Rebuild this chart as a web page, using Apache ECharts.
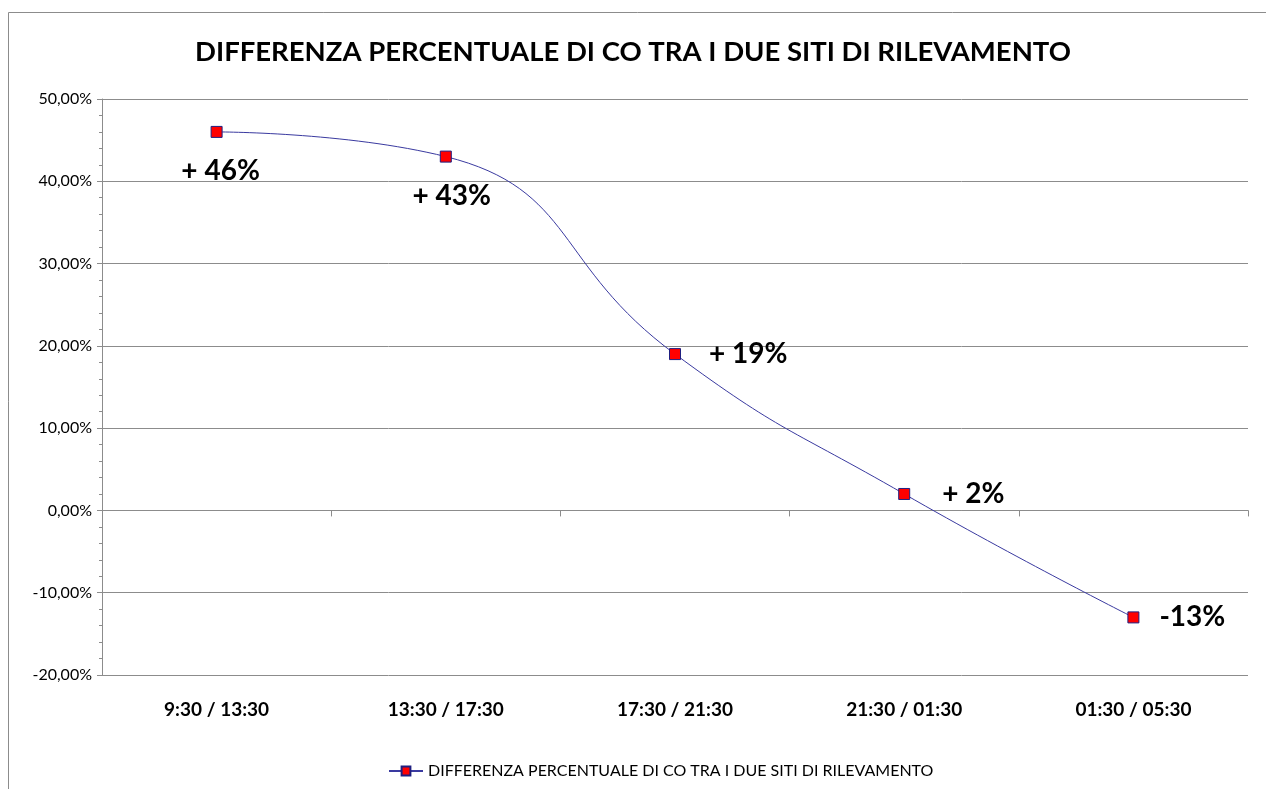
<!DOCTYPE html>
<html>
<head>
<meta charset="utf-8">
<script src="https://cdn.jsdelivr.net/npm/echarts@6/dist/echarts.min.js"></script>
<style>
  html, body { margin: 0; padding: 0; background: #fff; }
  #chart { width: 1266px; height: 789px; }
</style>
</head>
<body>
<div id="chart"></div>
<script>
// dati
const categories = ['9:30 / 13:30', '13:30 / 17:30', '17:30 / 21:30', '21:30 / 01:30', '01:30 / 05:30'];
const values = [46, 43, 19, 2, -13];
const pointLabels = ['+ 46%', '+ 43%', '+ 19%', '+ 2%', '-13%'];
const seriesName = 'DIFFERENZA PERCENTUALE DI CO TRA I DUE SITI DI RILEVAMENTO';

const font = 'Lato, "Open Sans", sans-serif';

// posizione delle etichette come nel foglio originale
const labelPos = [
  { position: 'bottom', distance: 19, offset: [4, 0] },
  { position: 'bottom', distance: 19, offset: [6, 0] },
  { position: 'right', distance: 28 },
  { position: 'right', distance: 32 },
  { position: 'right', distance: 20 }
];

const chart = echarts.init(document.getElementById('chart'));

const option = {
  animation: false,
  backgroundColor: '#fff',
  textStyle: { fontFamily: font },
  graphic: [{
    type: 'rect',
    shape: { x: 8.5, y: 12.5, width: 1300, height: 800 },
    style: { fill: 'none', stroke: '#8c8c8c', lineWidth: 1 },
    silent: true
  }],
  title: {
    text: seriesName,
    left: 'center',
    top: 33,
    textStyle: { fontFamily: font, fontSize: 27.5, fontWeight: 'bold', color: '#000' }
  },
  legend: {
    bottom: 5,
    left: 383,
    itemWidth: 34,
    itemHeight: 11,
    itemGap: 6,
    textStyle: { fontFamily: font, fontSize: 16, color: '#000' },
    data: [seriesName]
  },
  grid: { left: 102, right: 18, top: 99, bottom: 114 },
  xAxis: [{
    type: 'category',
    data: categories,
    boundaryGap: true,
    position: 'bottom',
    axisLine: { show: false, onZero: false },
    axisTick: { show: false },
    axisLabel: { margin: 25, fontFamily: font, fontSize: 19, fontWeight: 'bold', color: '#000' },
    splitLine: { show: false }
  }, {
    type: 'category',
    data: categories,
    boundaryGap: true,
    position: 'bottom',
    axisLine: { show: true, onZero: true, lineStyle: { color: '#8c8c8c', width: 1 } },
    axisTick: { show: true, inside: false, length: 6, lineStyle: { color: '#8c8c8c' } },
    axisLabel: { show: false },
    splitLine: { show: false }
  }],
  yAxis: {
    type: 'value',
    min: -20,
    max: 50,
    interval: 10,
    axisLine: { show: true, onZero: false, lineStyle: { color: '#8c8c8c', width: 1 } },
    axisTick: { show: true, length: 5, lineStyle: { color: '#8c8c8c' } },
    minorTick: { show: true, splitNumber: 5, length: 3, lineStyle: { color: '#8c8c8c' } },
    axisLabel: {
      margin: 10,
      fontFamily: font,
      fontSize: 16,
      color: '#000',
      formatter: v => v.toFixed(2).replace('.', ',') + '%'
    },
    splitLine: { show: true, lineStyle: { color: '#8c8c8c', width: 1 } }
  },
  series: [{
    name: seriesName,
    type: 'line',
    xAxisIndex: 0,
    smooth: 0.5,
    data: values.map((v, i) => ({
      value: v,
      label: Object.assign({
        show: true,
        formatter: pointLabels[i],
        fontFamily: font,
        fontSize: 28,
        fontWeight: 'bold',
        color: '#000'
      }, labelPos[i])
    })),
    symbol: 'rect',
    symbolSize: 11,
    lineStyle: { color: '#3a3aa0', width: 1 },
    itemStyle: { color: '#ff0000', borderColor: '#1f1f80', borderWidth: 1 }
  }]
};

chart.setOption(option);
</script>
</body>
</html>
